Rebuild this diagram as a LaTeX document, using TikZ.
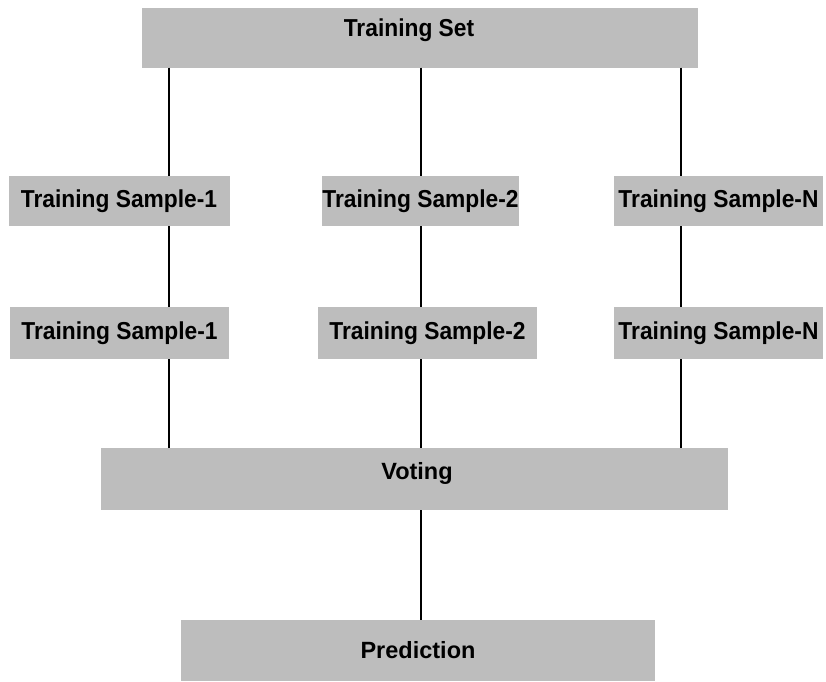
\documentclass[tikz,border=0pt]{standalone}
\usepackage{fontspec}
\setmainfont{Liberation Sans}
\newfontfamily\boxfont[FakeStretch=0.93]{Liberation Sans}
\begin{document}
\begin{tikzpicture}[x=1pt,y=-1pt,
  box/.style={fill=boxgray,draw=none,inner sep=0pt,font=\boxfont\fontsize{24.5}{28}\selectfont\bfseries},
  widebox/.style={box,font=\fontsize{23.5}{28}\selectfont\bfseries},
  link/.style={line width=2.8pt,black}]
\definecolor{boxgray}{HTML}{BDBDBD}
\useasboundingbox (0,0) rectangle (826,681);
\node[box,minimum width=556pt,minimum height=60pt] (ts) at (420,37.5) {\raisebox{19pt}{\hspace*{-22pt}Training Set}};
\node[box,minimum width=221pt,minimum height=50pt] (a1) at (119,201) {Training Sample-1};
\node[box,minimum width=193pt,minimum height=50pt] (a2) at (420.5,201) {Training Sample-2};
\node[box,minimum width=209pt,minimum height=50pt] (a3) at (718.5,201) {Training Sample-N};
\node[box,minimum width=219pt,minimum height=52pt] (b1) at (119.5,333) {Training Sample-1};
\node[box,minimum width=219pt,minimum height=52pt] (b2) at (427.5,333) {Training Sample-2};
\node[box,minimum width=209pt,minimum height=52pt] (b3) at (718.5,333) {Training Sample-N};
\node[widebox,minimum width=627pt,minimum height=62pt] (v) at (414.5,479) {\raisebox{16pt}{\hspace*{5pt}Voting}};
\node[widebox,minimum width=474pt,minimum height=61pt] (p) at (418,650.5) {Prediction};
\coordinate (c1) at (169,0);
\coordinate (c2) at (421,0);
\coordinate (c3) at (681,0);
\draw[link] (ts.south -| c1) -- (a1.north -| c1);
\draw[link] (ts.south -| c2) -- (a2.north -| c2);
\draw[link] (ts.south -| c3) -- (a3.north -| c3);
\draw[link] (a1.south -| c1) -- (b1.north -| c1);
\draw[link] (a2.south -| c2) -- (b2.north -| c2);
\draw[link] (a3.south -| c3) -- (b3.north -| c3);
\draw[link] (b1.south -| c1) -- (v.north -| c1);
\draw[link] (b2.south -| c2) -- (v.north -| c2);
\draw[link] (b3.south -| c3) -- (v.north -| c3);
\draw[link] (v.south -| c2) -- (p.north -| c2);
\end{tikzpicture}
\end{document}
